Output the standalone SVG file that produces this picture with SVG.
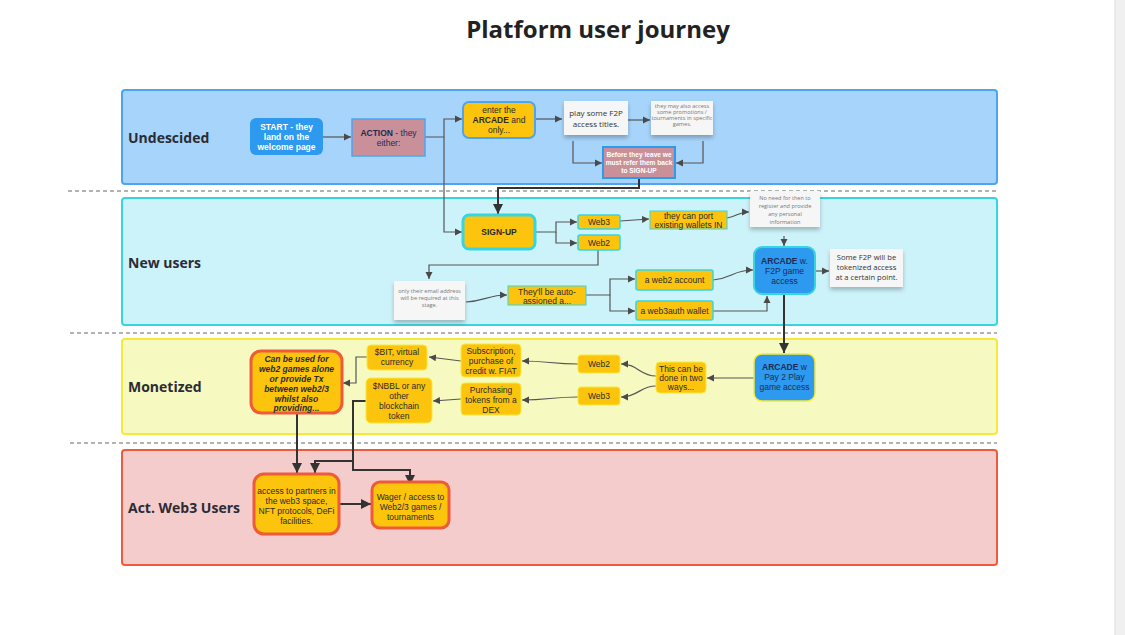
<svg xmlns="http://www.w3.org/2000/svg" width="1125" height="635" viewBox="0 0 1125 635">
<defs>
<marker id="ah" markerWidth="8" markerHeight="8" refX="7" refY="4" orient="auto" markerUnits="userSpaceOnUse">
<path d="M0,0.5 L7,4 L0,7.5 Z" fill="#4a4a4a"/>
</marker>
<marker id="ahb" markerWidth="11" markerHeight="11" refX="10" refY="5.5" orient="auto" markerUnits="userSpaceOnUse">
<path d="M0,0.5 L10,5.5 L0,10.5 Z" fill="#333"/>
</marker>
<filter id="sh" x="-20%" y="-20%" width="140%" height="160%">
<feDropShadow dx="0" dy="3" stdDeviation="2" flood-color="#000" flood-opacity="0.25"/>
</filter>
</defs>
<style>
.lane{stroke-width:2}
.lbl{font-family:"Open Sans","Liberation Sans",sans-serif;font-weight:bold;font-size:14px;fill:#2b2b36}
.dash{stroke:#999;stroke-width:1.3;stroke-dasharray:4 3;fill:none}
.t{font-family:"Liberation Sans",Arial,sans-serif;font-size:8.5px;fill:#2b2b2b;text-anchor:middle}
.tw{font-family:"Liberation Sans",Arial,sans-serif;font-size:8.5px;fill:#fff;font-weight:bold;text-anchor:middle}
.tws{font-family:"Liberation Sans",Arial,sans-serif;font-size:6.6px;fill:#fff;font-weight:bold;text-anchor:middle}
.tn{font-family:"Liberation Sans",Arial,sans-serif;font-size:8.5px;fill:#1d2a55;text-anchor:middle}
.ts{font-family:"Open Sans","Liberation Sans",sans-serif;font-size:5.6px;fill:#777;text-anchor:middle}
.tm{font-family:"Open Sans","Liberation Sans",sans-serif;font-size:8px;fill:#333;text-anchor:middle}
.tm2{font-family:"Open Sans","Liberation Sans",sans-serif;font-size:7.6px;fill:#333;text-anchor:middle}
.bi{font-weight:bold;font-style:italic}
.y{fill:#fcc40c}
.note{fill:#f6f6f6;filter:url(#sh)}
.c{fill:none;stroke:#555;stroke-width:1.2;marker-end:url(#ah)}
.cb{fill:none;stroke:#333;stroke-width:2;marker-end:url(#ahb)}
</style>
<rect width="1125" height="635" fill="#fff"/>
<rect x="1115" y="0" width="10" height="635" fill="#f0f0f0"/>
<line x1="1115" y1="0" x2="1115" y2="635" stroke="#ddd"/>
<text x="598" y="38" text-anchor="middle" font-family="'Open Sans','Liberation Sans',sans-serif" font-weight="bold" font-size="24" fill="#222">Platform user journey</text>

<g id="lanes">
<rect class="lane" x="122" y="90" width="875" height="94" rx="3" fill="#a7d4fa" stroke="#4ea4f0"/>
<rect class="lane" x="122" y="198" width="875" height="127" rx="3" fill="#cdf3fa" stroke="#37d5e0"/>
<rect class="lane" x="122" y="339" width="875" height="95" rx="3" fill="#f6fac0" stroke="#f5ea3a"/>
<rect class="lane" x="122" y="450" width="875" height="115" rx="3" fill="#f4cccc" stroke="#ef5a3a"/>
<line class="dash" x1="68" y1="191" x2="997" y2="191"/>
<line class="dash" x1="70" y1="333" x2="997" y2="333"/>
<line class="dash" x1="70" y1="443" x2="997" y2="443"/>
<text class="lbl" x="128" y="143">Undescided</text>
<text class="lbl" x="128" y="268">New users</text>
<text class="lbl" x="128" y="392">Monetized</text>
<text class="lbl" x="128" y="513">Act. Web3 Users</text>
</g>

<g id="connectors">
<path class="c" d="M323,137 L351,137"/>
<path class="c" d="M425,137 L444,137 L444,119 L462,119"/>
<path class="c" d="M444,137 L444,232 L462,232"/>
<path class="c" d="M535,119 L562,119"/>
<path class="c" d="M628,120 L650,120"/>
<path class="c" d="M573,141 L573,163 L602,163"/>
<path class="c" d="M703,141 L703,163 L676,163"/>
<path class="cb" d="M639,179 L639,188 L498,188 L498,214"/>
<path class="c" d="M535,232 L556,232 L556,222 L577,222"/>
<path class="c" d="M556,232 L556,243 L577,243"/>
<path class="c" d="M620,221 L649,219"/>
<path class="c" d="M727,218 C738,216 738,212 749,212"/>
<path class="c" d="M784,236 L784,246"/>
<path class="c" d="M598,250 L598,265 L429,265 L429,279"/>
<path class="c" d="M466,302 C485,301 488,295 507,295"/>
<path class="c" d="M586,295 L610,295 L610,279 L635,279"/>
<path class="c" d="M610,295 L610,311 L635,311"/>
<path class="c" d="M713,280 C733,278 733,270 753,270"/>
<path class="c" d="M713,311 L767,311 L767,296"/>
<path class="c" d="M815,271 L829,271"/>
<path class="cb" d="M784,294 L784,353"/>
<path class="c" d="M754,378 L707,378"/>
<path class="c" d="M656,376 C640,376 638,364 621,364"/>
<path class="c" d="M656,386 C640,386 638,397 621,397"/>
<path class="c" d="M578,364 C552,364 548,361 522,361"/>
<path class="c" d="M578,397 C552,397 548,400 522,400"/>
<path class="c" d="M461,361 L429,357"/>
<path class="c" d="M461,399 L433,401"/>
<path class="c" d="M367,357 L356,357 L356,383 L343,383"/>
<path class="cb" d="M297,413 L297,473"/>
<path class="cb" d="M366,401 L353,401 L353,461 L315,461 L315,473"/>
<path class="cb" d="M353,461 L353,470 L410,470 L410,485"/>
<path class="cb" d="M340,504 L371,504"/>
</g>

<g id="start">
<rect x="250" y="118" width="73" height="37" rx="6" fill="#2d9af0"/>
<text class="tw" x="286.5" y="130">START - they</text>
<text class="tw" x="286.5" y="140">land on the</text>
<text class="tw" x="286.5" y="150">welcome page</text>
</g>
<g id="action">
<rect x="352" y="119" width="73" height="37" fill="#c99099" stroke="#4ea4f0" stroke-width="1.5"/>
<text class="tn" x="388.5" y="136"><tspan font-weight="bold">ACTION</tspan> - they</text>
<text class="tn" x="388.5" y="146">either:</text>
</g>
<g id="enter-arcade">
<rect class="y" x="463" y="102" width="72" height="36" rx="6" stroke="#4ea4f0" stroke-width="2"/>
<text class="t" x="499" y="113">enter the</text>
<text class="t" x="499" y="123"><tspan font-weight="bold">ARCADE</tspan> and</text>
<text class="t" x="499" y="133">only...</text>
</g>
<g id="play-f2p">
<rect class="note" x="564" y="101" width="64" height="34"/>
<text class="tm" x="596" y="116">play some F2P</text>
<text class="tm" x="596" y="127">access titles.</text>
</g>
<g id="may-also">
<rect class="note" x="651" y="101" width="62" height="34"/>
<text class="ts" x="682" y="108">they may also access</text>
<text class="ts" x="682" y="114">some promotions /</text>
<text class="ts" x="682" y="120">tournaments in specific</text>
<text class="ts" x="682" y="126">games.</text>
</g>
<g id="before-leave">
<rect x="603" y="147" width="72" height="31" fill="#c99099" stroke="#2d9af0" stroke-width="2"/>
<text class="tws" x="639" y="157">Before they leave we</text>
<text class="tws" x="639" y="165">must refer them back</text>
<text class="tws" x="639" y="173">to SIGN-UP</text>
</g>

<g id="signup">
<rect class="y" x="463" y="215" width="72" height="34" rx="6" stroke="#37d5e0" stroke-width="3"/>
<text class="t" x="499" y="235" font-weight="bold">SIGN-UP</text>
</g>
<g id="web3-a">
<rect class="y" x="578" y="215" width="42" height="14" rx="2" stroke="#37d5e0" stroke-width="1.5"/>
<text class="t" x="599" y="225">Web3</text>
</g>
<g id="web2-a">
<rect class="y" x="578" y="235" width="42" height="15" rx="2" stroke="#37d5e0" stroke-width="1.5"/>
<text class="t" x="599" y="246">Web2</text>
</g>
<g id="port-wallets">
<rect class="y" x="650" y="211" width="77" height="18" stroke="#37d5e0" stroke-width="1"/>
<text class="t" x="688.5" y="219">they can port</text>
<text class="t" x="688.5" y="228">existing wallets IN</text>
</g>
<g id="no-need">
<rect class="note" x="750" y="191" width="70" height="36"/>
<text class="ts" x="785" y="200">No need for then to</text>
<text class="ts" x="785" y="208">register and provide</text>
<text class="ts" x="785" y="216">any personal</text>
<text class="ts" x="785" y="224">information</text>
</g>
<g id="arcade-f2p">
<rect x="754" y="247" width="61" height="47" rx="8" fill="#2d9af0" stroke="#37d5e0" stroke-width="2"/>
<text class="tn" x="784.5" y="264"><tspan font-weight="bold">ARCADE</tspan> w.</text>
<text class="tn" x="784.5" y="274">F2P game</text>
<text class="tn" x="784.5" y="284">access</text>
</g>
<g id="some-f2p">
<rect class="note" x="830" y="249" width="73" height="38"/>
<text class="tm2" x="866.5" y="260">Some F2P will be</text>
<text class="tm2" x="866.5" y="270">tokenized access</text>
<text class="tm2" x="866.5" y="280">at a certain point.</text>
</g>
<g id="email-only">
<rect class="note" x="394" y="281" width="71" height="39"/>
<text class="ts" x="429.5" y="293">only their email address</text>
<text class="ts" x="429.5" y="300">will be required at this</text>
<text class="ts" x="429.5" y="307">stage.</text>
</g>
<g id="auto-assigned">
<rect class="y" x="508" y="286" width="78" height="19" stroke="#37d5e0" stroke-width="1"/>
<text class="t" x="547" y="295">They'll be auto-</text>
<text class="t" x="547" y="304">assioned a...</text>
</g>
<g id="web2-account">
<rect class="y" x="636" y="270" width="77" height="20" rx="2" stroke="#37d5e0" stroke-width="1.5"/>
<text class="t" x="674.5" y="283">a web2 account</text>
</g>
<g id="web3auth-wallet">
<rect class="y" x="636" y="301" width="77" height="19" rx="2" stroke="#37d5e0" stroke-width="1.5"/>
<text class="t" x="674.5" y="314">a web3auth wallet</text>
</g>

<g id="arcade-p2p">
<rect x="754" y="354" width="61" height="47" rx="8" fill="#2d9af0" stroke="#f5ea3a" stroke-width="1.5"/>
<text class="tn" x="784.5" y="370"><tspan font-weight="bold">ARCADE</tspan> w</text>
<text class="tn" x="784.5" y="380">Pay 2 Play</text>
<text class="tn" x="784.5" y="390">game access</text>
</g>
<g id="two-ways">
<rect class="y" x="656" y="362" width="50" height="31" rx="4" stroke="#f5ea3a" stroke-width="1"/>
<text class="t" x="681" y="372">This can be</text>
<text class="t" x="681" y="381">done in two</text>
<text class="t" x="681" y="390">ways...</text>
</g>
<g id="web2-b">
<rect class="y" x="578" y="355" width="42" height="18" rx="3" stroke="#f5ea3a" stroke-width="1"/>
<text class="t" x="599" y="367">Web2</text>
</g>
<g id="web3-b">
<rect class="y" x="578" y="387" width="42" height="18" rx="3" stroke="#f5ea3a" stroke-width="1"/>
<text class="t" x="599" y="399">Web3</text>
</g>
<g id="subscription">
<rect class="y" x="461" y="344" width="60" height="33" rx="4" stroke="#f5ea3a" stroke-width="1"/>
<text class="t" x="491" y="354">Subscription,</text>
<text class="t" x="491" y="364">purchase of</text>
<text class="t" x="491" y="374">credit w. FIAT</text>
</g>
<g id="purchasing">
<rect class="y" x="461" y="383" width="60" height="32" rx="4" stroke="#f5ea3a" stroke-width="1"/>
<text class="t" x="491" y="393">Purchasing</text>
<text class="t" x="491" y="403">tokens from a</text>
<text class="t" x="491" y="413">DEX</text>
</g>
<g id="bit">
<rect class="y" x="367" y="345" width="60" height="25" rx="4" stroke="#f5ea3a" stroke-width="1"/>
<text class="t" x="397" y="355">$BIT, virtual</text>
<text class="t" x="397" y="365">currency</text>
</g>
<g id="nbbl">
<rect class="y" x="366" y="378" width="66" height="45" rx="5" stroke="#f5ea3a" stroke-width="1"/>
<text class="t" x="399" y="389">$NBBL or any</text>
<text class="t" x="399" y="399">other</text>
<text class="t" x="399" y="409">blockchain</text>
<text class="t" x="399" y="419">token</text>
</g>
<g id="can-be-used">
<rect class="y" x="251" y="351" width="91" height="62" rx="10" stroke="#ef5a3a" stroke-width="3"/>
<text class="t bi" x="296.5" y="362">Can be used for</text>
<text class="t bi" x="296.5" y="372">web2 games alone</text>
<text class="t bi" x="296.5" y="382">or provide Tx</text>
<text class="t bi" x="296.5" y="392">between web2/3</text>
<text class="t bi" x="296.5" y="402">whilst also</text>
<text class="t bi" x="296.5" y="411">providing...</text>
</g>

<g id="partners">
<rect class="y" x="254" y="474" width="85" height="60" rx="10" stroke="#ef5a3a" stroke-width="3"/>
<text class="t" x="296.5" y="494">access to partners in</text>
<text class="t" x="296.5" y="504">the web3 space,</text>
<text class="t" x="296.5" y="514">NFT protocols, DeFi</text>
<text class="t" x="296.5" y="524">facilities.</text>
</g>
<g id="wager">
<rect class="y" x="372" y="482" width="77" height="46" rx="8" stroke="#ef5a3a" stroke-width="3"/>
<text class="t" x="410.5" y="500">Wager / access to</text>
<text class="t" x="410.5" y="510">Web2/3 games /</text>
<text class="t" x="410.5" y="520">tournaments</text>
</g>
</svg>
